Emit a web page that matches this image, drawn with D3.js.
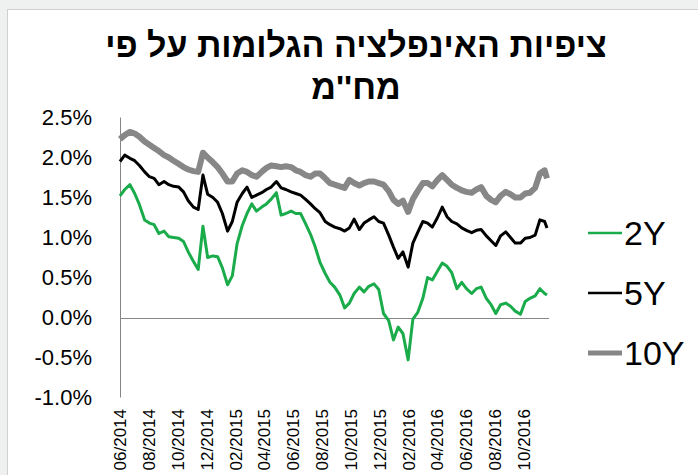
<!DOCTYPE html>
<meta charset="utf-8">
<style>
  body { margin: 0; background: #eef1f0; }
  svg { display: block; }
  .title { font-family: "Liberation Sans", Arial, sans-serif; font-weight: bold; font-size: 34px; fill: #000; }
  .ytick { font-family: "Liberation Sans", Arial, sans-serif; font-size: 22px; fill: #000; }
  .xtick { font-family: "Liberation Sans", Arial, sans-serif; font-size: 17px; fill: #000; }
  .legend { font-family: "Liberation Sans", Arial, sans-serif; font-size: 34px; fill: #000; }
</style>
<svg width="698" height="475"></svg>
<script src="https://d3js.org/d3.v7.min.js"></script>
<script>

// title lines
var titleLines = ['ציפיות האינפלציה הגלומות על פי', "מח''מ"];

// series names
var seriesNames = ['2Y', '5Y', '10Y'];

// observations sampled roughly every 10 days from 01/06/2014
var dayOffsets = d3.range(88).map(function(i) { return Math.round(i * 10.3); }).concat([901]);

// values in % (three per month)
var y2 = [
  1.52, 1.6, 1.66,   1.55, 1.41, 1.22,   1.18, 1.16, 1.05,   1.08, 1.01, 1.0,
  0.99, 0.95, 0.82,  0.7, 0.6, 1.14,     0.75, 0.77, 0.76,   0.62, 0.41, 0.52,
  0.92, 1.15, 1.3,   1.42, 1.33, 1.38,   1.42, 1.48, 1.56,   1.28, 1.3, 1.33,
  1.3, 1.3, 1.18,    1.04, 0.88, 0.69,   0.55, 0.44, 0.38,   0.28, 0.12, 0.18,
  0.3, 0.38, 0.32,   0.39, 0.42, 0.35,   0.05, -0.04, -0.28, -0.12, -0.2, -0.53,
  -0.02, 0.06, 0.24, 0.5, 0.47, 0.58,    0.68, 0.64, 0.56,   0.36, 0.44, 0.36,
  0.3, 0.36, 0.38,   0.24, 0.16, 0.05,   0.16, 0.18, 0.14,   0.08, 0.04, 0.2,
  0.24, 0.27, 0.36,  0.3, 0.28
];
var y5 = [
  1.95, 2.03, 1.99,  1.96, 1.9, 1.82,    1.76, 1.74, 1.66,   1.7, 1.66, 1.64,
  1.63, 1.57, 1.46,  1.38, 1.35, 1.78,   1.54, 1.5, 1.44,    1.3, 1.08, 1.2,
  1.44, 1.55, 1.63,  1.5, 1.53, 1.56,    1.6, 1.63, 1.7,     1.62, 1.6, 1.57,
  1.55, 1.53, 1.48,  1.42, 1.36, 1.31,   1.2, 1.16, 1.13,    1.11, 1.08, 1.12,
  1.23, 1.1, 1.18,   1.22, 1.26, 1.2,    1.18, 1.03, 0.88,   0.74, 0.82, 0.63,
  0.93, 1.06, 1.2,   1.18, 1.13, 1.25,   1.38, 1.26, 1.2,    1.17, 1.12, 1.09,
  1.06, 1.09, 1.1,   1.02, 0.96, 0.9,    1.02, 1.07, 1.0,    0.93, 0.93, 0.99,
  1.0, 1.03, 1.22,   1.2, 1.12
];
var y10 = [
  2.23, 2.28, 2.32,  2.3, 2.26, 2.2,     2.16, 2.12, 2.08,   2.03, 2.0, 1.96,
  1.92, 1.88, 1.85,  1.83, 1.82, 2.06,   2.0, 1.94, 1.88,    1.8, 1.7, 1.7,
  1.8, 1.84, 1.82,   1.78, 1.76, 1.82,   1.87, 1.9, 1.89,    1.88, 1.89, 1.88,
  1.84, 1.82, 1.78,  1.76, 1.8, 1.8,     1.74, 1.68, 1.66,   1.64, 1.62, 1.72,
  1.68, 1.65, 1.68,  1.7, 1.7, 1.68,     1.66, 1.58, 1.47,   1.42, 1.46, 1.32,
  1.48, 1.58, 1.68,  1.68, 1.64, 1.72,   1.78, 1.72, 1.66,   1.62, 1.59, 1.57,
  1.56, 1.6, 1.63,   1.52, 1.47, 1.44,   1.52, 1.57, 1.54,   1.5, 1.5, 1.55,
  1.56, 1.62, 1.8,   1.84, 1.74
];

// y axis ticks
var yTicks = [2.5, 2.0, 1.5, 1.0, 0.5, 0.0, -0.5, -1.0];

var svg = d3.select('svg');

// white chart panel
svg.append('rect')
    .attr('x', 7.5).attr('y', 9.5)
    .attr('width', 700).attr('height', 480)
    .attr('fill', '#fff')
    .attr('stroke', '#d0d0d0');

var start = new Date(2014, 5, 1);
var dates = dayOffsets.map(function(d) { return d3.timeDay.offset(start, d); });

var x = d3.scaleTime()
    .domain([start, dates[dates.length - 1]])
    .range([120, 547]);

var y = d3.scaleLinear()
    .domain([-1, 2.5])
    .range([397.5, 117.5]);

// title
svg.selectAll('.title')
    .data(titleLines)
    .enter().append('text')
    .attr('class', 'title')
    .attr('x', 356)
    .attr('y', function(d, i) { return 57 + i * 42; })
    .attr('text-anchor', 'middle')
    .attr('direction', 'rtl')
    .text(function(d) { return d; });

// y labels (plain hyphen for negatives)
svg.selectAll('.ytick')
    .data(yTicks)
    .enter().append('text')
    .attr('class', 'ytick')
    .attr('x', 92)
    .attr('y', function(d) { return y(d); })
    .attr('dy', '0.35em')
    .attr('text-anchor', 'end')
    .text(function(d) { return d.toFixed(1) + '%'; });

// axis lines
svg.append('line')
    .attr('x1', 120.5).attr('x2', 120.5)
    .attr('y1', y(2.5)).attr('y2', y(-1))
    .attr('stroke', '#868686');
svg.append('line')
    .attr('x1', 120.5).attr('x2', 549)
    .attr('y1', Math.round(y(0)) + 0.5).attr('y2', Math.round(y(0)) + 0.5)
    .attr('stroke', '#868686');

// x labels
var xTicks = d3.timeMonth.range(start, new Date(2016, 10, 1), 2);
svg.selectAll('.xtick')
    .data(xTicks)
    .enter().append('text')
    .attr('class', 'xtick')
    .attr('transform', function(d) { return 'translate(' + x(d) + ',409) rotate(-90)'; })
    .attr('dy', '0.35em')
    .attr('text-anchor', 'end')
    .text(d3.timeFormat('%m/%Y'));

var series = [
  { name: seriesNames[0], values: y2, color: '#1aab4b', width: 3 },
  { name: seriesNames[1], values: y5, color: '#000000', width: 3 },
  { name: seriesNames[2], values: y10, color: '#878787', width: 6 }
];

var line = d3.line()
    .x(function(d) { return x(d[0]); })
    .y(function(d) { return y(d[1]); });

svg.append('g')
    .selectAll('path')
    .data(series.slice().reverse())
    .enter().append('path')
    .attr('fill', 'none')
    .attr('stroke', function(d) { return d.color; })
    .attr('stroke-width', function(d) { return d.width; })
    .attr('stroke-linejoin', 'round')
    .attr('d', function(d) { return line(d3.zip(dates, d.values)); });

// legend
var legend = svg.append('g')
    .selectAll('g')
    .data(series)
    .enter().append('g')
    .attr('transform', function(d, i) { return 'translate(588,' + (233 + i * 60) + ')'; });
legend.append('line')
    .attr('x1', 0).attr('x2', 34)
    .attr('stroke', function(d) { return d.color; })
    .attr('stroke-width', function(d) { return d.width === 3 ? 2.5 : 5; });
legend.append('text')
    .attr('class', 'legend')
    .attr('x', 36)
    .attr('y', 12)
    .text(function(d) { return d.name; });

</script>
